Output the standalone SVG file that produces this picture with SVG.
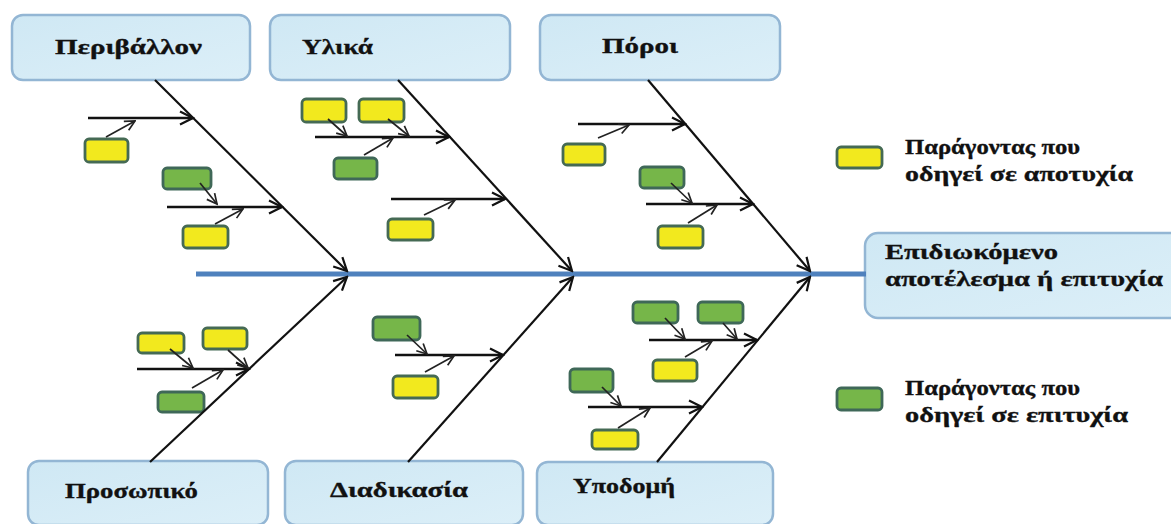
<svg xmlns="http://www.w3.org/2000/svg" width="1171" height="524" viewBox="0 0 1171 524">
  <defs>
    <linearGradient id="boxFill" x1="0" y1="0" x2="1" y2="1">
      <stop offset="0" stop-color="#CFE8F4"/>
      <stop offset="1" stop-color="#DCEFF8"/>
    </linearGradient>
    <marker id="ah" viewBox="0 0 16 16" refX="14.5" refY="8" markerWidth="16" markerHeight="16" markerUnits="userSpaceOnUse" orient="auto">
      <path d="M1.5,1.5 L14.5,8 L1.5,14.5" fill="none" stroke="#111" stroke-width="2.2"/>
    </marker>
    <marker id="ahs" viewBox="0 0 13 13" refX="11.5" refY="6.5" markerWidth="13" markerHeight="13" markerUnits="userSpaceOnUse" orient="auto">
      <path d="M1.5,1.5 L11.5,6.5 L1.5,11.5" fill="none" stroke="#222" stroke-width="1.7"/>
    </marker>
  </defs>
  <style>
    .cat { fill: url(#boxFill); stroke: #93B6D4; stroke-width: 2.5; }
    .lbl { font-family: "Liberation Serif", "DejaVu Serif", serif; font-weight: bold; font-size: 22px; fill: #111; stroke: #111; stroke-width: 0.35; }
    .yel { fill: #F2E91E; stroke: #456A54; stroke-width: 2.8; }
    .grn { fill: #76B649; stroke: #3F6858; stroke-width: 2.8; }
    .spine { stroke: #4F81BD; stroke-width: 5; fill: none; }
    .bone { stroke: #111; stroke-width: 2.2; fill: none; marker-end: url(#ah); }
    .sub { stroke: #111; stroke-width: 2.3; fill: none; marker-end: url(#ah); }
    .lead { stroke: #222; stroke-width: 1.7; fill: none; marker-end: url(#ahs); }
  </style>

  <rect width="1171" height="524" fill="#FFFFFF"/>

  <!-- category boxes -->
  <g id="cat-environment"><rect class="cat" x="12" y="15" width="238" height="65" rx="11"/><text class="lbl" x="55" y="54" textLength="147" lengthAdjust="spacingAndGlyphs">Περιβάλλον</text></g>
  <g id="cat-materials"><rect class="cat" x="270" y="15" width="240" height="65" rx="11"/><text class="lbl" x="302" y="54" textLength="71" lengthAdjust="spacingAndGlyphs">Υλικά</text></g>
  <g id="cat-resources"><rect class="cat" x="540" y="15" width="240" height="65" rx="11"/><text class="lbl" x="602" y="53" textLength="76" lengthAdjust="spacingAndGlyphs">Πόροι</text></g>
  <g id="cat-staff"><rect class="cat" x="28" y="461" width="240" height="64" rx="11"/><text class="lbl" x="65" y="498" textLength="133" lengthAdjust="spacingAndGlyphs">Προσωπικό</text></g>
  <g id="cat-process"><rect class="cat" x="285" y="461" width="238" height="64" rx="11"/><text class="lbl" x="330" y="497" textLength="138" lengthAdjust="spacingAndGlyphs">Διαδικασία</text></g>
  <g id="cat-infrastructure"><rect class="cat" x="537" y="462" width="236" height="63" rx="11"/><text class="lbl" x="573" y="493" textLength="102" lengthAdjust="spacingAndGlyphs">Υποδομή</text></g>

  <!-- effect box -->
  <g id="effect">
    <rect class="cat" x="865" y="233" width="320" height="85" rx="13"/>
    <text class="lbl" x="885" y="259" textLength="173" lengthAdjust="spacingAndGlyphs">Επιδιωκόμενο</text>
    <text class="lbl" x="885" y="286" textLength="278" lengthAdjust="spacingAndGlyphs">αποτέλεσμα ή επιτυχία</text>
  </g>

  <!-- legend -->
  <g id="legend-failure">
    <rect class="yel" x="837" y="147" width="45" height="21" rx="4"/>
    <text class="lbl" x="905" y="154" textLength="175" lengthAdjust="spacingAndGlyphs">Παράγοντας που</text>
    <text class="lbl" x="905" y="181" textLength="228" lengthAdjust="spacingAndGlyphs">οδηγεί σε αποτυχία</text>
  </g>
  <g id="legend-success">
    <rect class="grn" x="837" y="388" width="45" height="22" rx="4"/>
    <text class="lbl" x="905" y="395" textLength="175" lengthAdjust="spacingAndGlyphs">Παράγοντας που</text>
    <text class="lbl" x="905" y="422" textLength="223" lengthAdjust="spacingAndGlyphs">οδηγεί σε επιτυχία</text>
  </g>

  <!-- factor boxes -->
  <g id="f-env-1"><rect class="yel" x="85" y="139" width="43" height="23" rx="4"/></g>
  <g id="f-env-2"><rect class="grn" x="163" y="168" width="48" height="21" rx="4"/></g>
  <g id="f-env-3"><rect class="yel" x="183" y="226" width="45" height="22" rx="4"/></g>
  <g id="f-mat-1"><rect class="yel" x="302" y="99" width="44" height="23" rx="4"/></g>
  <g id="f-mat-2"><rect class="yel" x="359" y="99" width="45" height="23" rx="4"/></g>
  <g id="f-mat-3"><rect class="grn" x="334" y="158" width="43" height="21" rx="4"/></g>
  <g id="f-mat-4"><rect class="yel" x="388" y="219" width="45" height="21" rx="4"/></g>
  <g id="f-res-1"><rect class="yel" x="563" y="144" width="42" height="21" rx="4"/></g>
  <g id="f-res-2"><rect class="grn" x="640" y="167" width="44" height="21" rx="4"/></g>
  <g id="f-res-3"><rect class="yel" x="658" y="226" width="45" height="22" rx="4"/></g>
  <g id="f-stf-1"><rect class="yel" x="138" y="333" width="46" height="20" rx="4"/></g>
  <g id="f-stf-2"><rect class="yel" x="203" y="328" width="44" height="21" rx="4"/></g>
  <g id="f-stf-3"><rect class="grn" x="158" y="392" width="46" height="20" rx="4"/></g>
  <g id="f-prc-1"><rect class="grn" x="373" y="317" width="47" height="23" rx="4"/></g>
  <g id="f-prc-2"><rect class="yel" x="393" y="376" width="45" height="22" rx="4"/></g>
  <g id="f-inf-1"><rect class="grn" x="633" y="302" width="45" height="21" rx="4"/></g>
  <g id="f-inf-2"><rect class="grn" x="698" y="302" width="45" height="21" rx="4"/></g>
  <g id="f-inf-3"><rect class="yel" x="653" y="360" width="44" height="21" rx="4"/></g>
  <g id="f-inf-4"><rect class="grn" x="570" y="369" width="43" height="23" rx="4"/></g>
  <g id="f-inf-5"><rect class="yel" x="592" y="430" width="46" height="19" rx="4"/></g>

  <!-- connectors -->
  <g id="connectors">
    <line class="spine" x1="196" y1="274" x2="866" y2="274"/>

    <!-- main bones -->
    <line class="bone" x1="155" y1="80" x2="347" y2="271"/>
    <line class="bone" x1="398" y1="80" x2="572" y2="271"/>
    <line class="bone" x1="648" y1="80" x2="810" y2="271"/>
    <line class="bone" x1="150" y1="462" x2="347" y2="277"/>
    <line class="bone" x1="408" y1="462" x2="573" y2="277"/>
    <line class="bone" x1="657" y1="462" x2="810" y2="277"/>

    <!-- sub bones -->
    <line class="sub" x1="88" y1="118" x2="193" y2="118"/>
    <line class="sub" x1="167" y1="207" x2="282" y2="207"/>
    <line class="sub" x1="315" y1="137" x2="449" y2="137"/>
    <line class="sub" x1="391" y1="199" x2="505" y2="199"/>
    <line class="sub" x1="578" y1="124" x2="685" y2="124"/>
    <line class="sub" x1="646" y1="204" x2="753" y2="204"/>
    <line class="sub" x1="137" y1="369" x2="249" y2="369"/>
    <line class="sub" x1="395" y1="355" x2="503" y2="355"/>
    <line class="sub" x1="649" y1="340" x2="757" y2="340"/>
    <line class="sub" x1="588" y1="407" x2="702" y2="407"/>

    <!-- factor leads -->
    <line class="lead" x1="106" y1="137" x2="135" y2="121"/>
    <line class="lead" x1="200" y1="183" x2="217" y2="204"/>
    <line class="lead" x1="215" y1="224" x2="243" y2="209"/>
    <line class="lead" x1="328" y1="119" x2="347" y2="136"/>
    <line class="lead" x1="388" y1="119" x2="409" y2="136"/>
    <line class="lead" x1="364" y1="155" x2="393" y2="138"/>
    <line class="lead" x1="424" y1="215" x2="455" y2="200"/>
    <line class="lead" x1="598" y1="138" x2="629" y2="125"/>
    <line class="lead" x1="671" y1="183" x2="692" y2="203"/>
    <line class="lead" x1="688" y1="223" x2="717" y2="205"/>
    <line class="lead" x1="170" y1="349" x2="193" y2="368"/>
    <line class="lead" x1="228" y1="350" x2="248" y2="368"/>
    <line class="lead" x1="192" y1="388" x2="223" y2="370"/>
    <line class="lead" x1="407" y1="335" x2="427" y2="354"/>
    <line class="lead" x1="425" y1="372" x2="454" y2="356"/>
    <line class="lead" x1="665" y1="318" x2="685" y2="339"/>
    <line class="lead" x1="723" y1="323" x2="737" y2="339"/>
    <line class="lead" x1="685" y1="357" x2="712" y2="341"/>
    <line class="lead" x1="602" y1="387" x2="621" y2="406"/>
    <line class="lead" x1="618" y1="428" x2="650" y2="408"/>
  </g>
</svg>
